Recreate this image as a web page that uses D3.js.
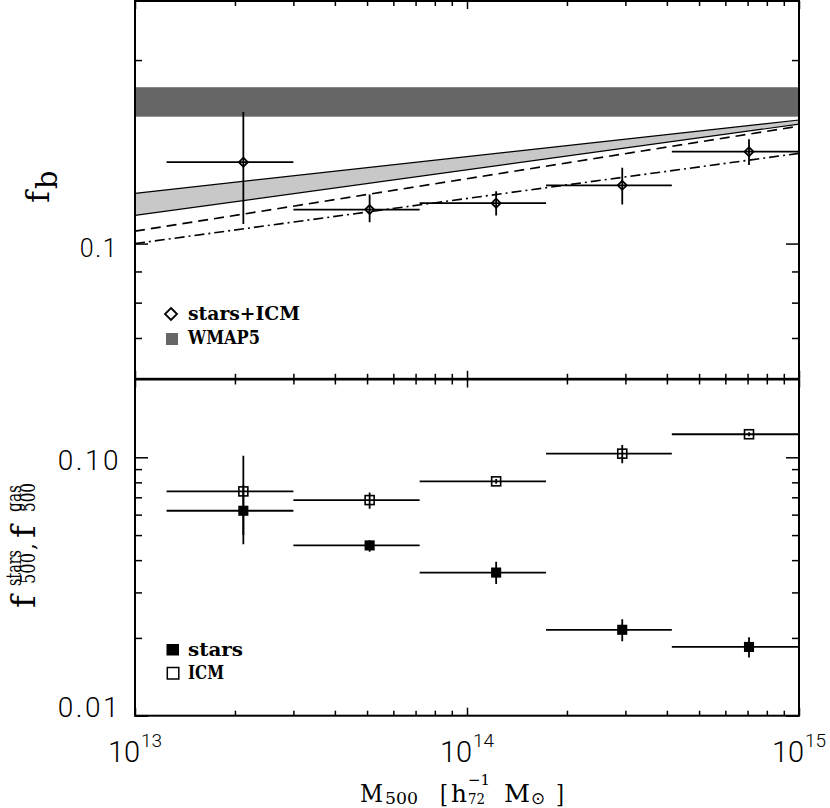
<!DOCTYPE html>
<html><head><meta charset="utf-8">
<script src="https://cdn.jsdelivr.net/npm/d3@7"></script>
<style>body{margin:0;background:#fff}svg{display:block}</style>
</head><body>
<svg id="chart" width="830" height="808"></svg>
<script>
// ---------------- data ----------------
const massEdges   = [1.245e13, 3.0e13, 7.2e13, 1.73e14, 4.14e14, 1.0e15];
const massCenters = [2.12e13, 5.09e13, 1.224e14, 2.935e14, 7.07e14];

const fbValues = [0.136, 0.1137, 0.1165, 0.1246, 0.1415];
const fbLow    = [0.1077, 0.1084, 0.1112, 0.1159, 0.1345];
const fbHigh   = [0.1644, 0.1204, 0.1219, 0.1332, 0.1483];

const starValues = [0.0621, 0.0456, 0.0358, 0.0215, 0.01845];
const starLow    = [0.0461, 0.0431, 0.0323, 0.0194, 0.0168];
const starHigh   = [0.078, 0.0478, 0.0394, 0.0236, 0.0201];

const icmValues = [0.0738, 0.0683, 0.0807, 0.1033, 0.1228];
const icmLow    = [0.050, 0.0632, 0.079, 0.0948, 0.1205];
const icmHigh   = [0.1014, 0.0731, 0.0825, 0.1116, 0.125];

const wmap5Band = [0.1615, 0.1805];

const lineMass      = [1e13, 1e15];
const bandUpperVals = [0.1209, 0.1595];
const bandLowerVals = [0.1112, 0.157];
const dashedVals    = [0.1048, 0.1558];
const dashDotVals   = [0.100, 0.1406];

const xMajorTicks = [1e13, 1e14, 1e15];
const xMinorTicks = [2e13,3e13,4e13,5e13,6e13,7e13,8e13,9e13,2e14,3e14,4e14,5e14,6e14,7e14,8e14,9e14];
const xTickExp = ["13", "14", "15"];
const topMajorTicks = [0.1];
const topMinorTicks = [0.07, 0.08, 0.09, 0.2];
const topTickLabels = ["0.1"];
const botMajorTicks = [0.01, 0.1];
const botMinorTicks = [0.02,0.03,0.04,0.05,0.06,0.07,0.08,0.09];
const botTickLabels = ["0.01", "0.10"];

// ---------------- scales ----------------
const svg = d3.select("#chart");
const X0 = 135, X1 = 799;
const x = d3.scaleLog().domain([1e13, 1e15]).range([X0, X1]);
const yTop = d3.scaleLog().domain([0.06, 0.25]).range([378.8, 1]);
const yBot = d3.scaleLog().domain([0.01, 0.2]).range([715.7, 379.5]);

const serif = "'DejaVu Serif', 'Liberation Serif', serif";
const sans = "Roboto, 'Liberation Sans', sans-serif";

const defs = svg.append("defs");
function clip(id, y0, y1) {
  defs.append("clipPath").attr("id", id).append("rect")
    .attr("x", X0).attr("y", y0).attr("width", X1 - X0).attr("height", y1 - y0);
}
clip("cTop", yTop.range()[1], yTop.range()[0]);
clip("cBot", yBot.range()[1], yBot.range()[0]);

// ---------------- top panel ----------------
const gTop = svg.append("g").attr("clip-path", "url(#cTop)");
gTop.append("rect")
  .attr("x", x(1e13)).attr("width", x(1e15) - x(1e13))
  .attr("y", yTop(wmap5Band[1])).attr("height", yTop(wmap5Band[0]) - yTop(wmap5Band[1]))
  .attr("fill", "#666666");

const bandData = lineMass.map((m, i) => ({m, lo: bandLowerVals[i], hi: bandUpperVals[i]}));
gTop.append("path").datum(bandData)
  .attr("d", d3.area().x(d => x(d.m)).y0(d => yTop(d.lo)).y1(d => yTop(d.hi)))
  .attr("fill", "#c8c8c8");
const lineGen = vals => d3.line().x((d, i) => x(lineMass[i])).y(d => yTop(d))(vals);
gTop.append("path").attr("d", lineGen(bandUpperVals)).attr("stroke", "#000").attr("stroke-width", 1.2).attr("fill", "none");
gTop.append("path").attr("d", lineGen(bandLowerVals)).attr("stroke", "#000").attr("stroke-width", 1.2).attr("fill", "none");
gTop.append("path").attr("d", lineGen(dashedVals)).attr("stroke", "#000").attr("stroke-width", 1.6)
  .attr("fill", "none").attr("stroke-dasharray", "10,6");
gTop.append("path").attr("d", lineGen(dashDotVals)).attr("stroke", "#000").attr("stroke-width", 1.6)
  .attr("fill", "none").attr("stroke-dasharray", "10,4,2,4");

function errorBars(g, yS, vals, lo, hi) {
  vals.forEach((v, i) => {
    g.append("line").attr("x1", x(massEdges[i])).attr("x2", x(massEdges[i + 1]))
      .attr("y1", yS(v)).attr("y2", yS(v)).attr("stroke", "#000").attr("stroke-width", 1.8);
    g.append("line").attr("x1", x(massCenters[i])).attr("x2", x(massCenters[i]))
      .attr("y1", yS(lo[i])).attr("y2", yS(hi[i])).attr("stroke", "#000").attr("stroke-width", 1.8);
  });
}
errorBars(gTop, yTop, fbValues, fbLow, fbHigh);
function diamond(g, cx, cy, r) {
  g.append("path").attr("d", `M${cx},${cy - r}L${cx + r},${cy}L${cx},${cy + r}L${cx - r},${cy}Z`)
    .attr("fill", "none").attr("stroke", "#000").attr("stroke-width", 1.8);
}
fbValues.forEach((v, i) => diamond(gTop, x(massCenters[i]), yTop(v), 4.5));

// ---------------- bottom panel ----------------
const gBot = svg.append("g").attr("clip-path", "url(#cBot)");
errorBars(gBot, yBot, icmValues, icmLow, icmHigh);
errorBars(gBot, yBot, starValues, starLow, starHigh);
function square(g, cx, cy, s, filled) {
  g.append("rect").attr("x", cx - s / 2).attr("y", cy - s / 2).attr("width", s).attr("height", s)
    .attr("fill", filled ? "#000" : "none").attr("stroke", "#000").attr("stroke-width", 1.6);
}
icmValues.forEach((v, i) => square(gBot, x(massCenters[i]), yBot(v), 9, false));
starValues.forEach((v, i) => square(gBot, x(massCenters[i]), yBot(v), 8.5, true));

// ---------------- axes / ticks ----------------
function styleAxis(sel) {
  sel.select(".domain").remove();
  sel.selectAll(".tick line").attr("stroke", "#000").attr("stroke-width", 1.5);
  sel.selectAll(".tick text").remove();
}
function panelAxes(yS, yMaj, yMin) {
  const yb = yS.range()[0], yt = yS.range()[1];
  [[d3.axisBottom, yb], [d3.axisTop, yt]].forEach(([ax, yy]) => {
    svg.append("g").attr("transform", `translate(0,${yy})`)
      .call(ax(x).tickValues(xMinorTicks).tickSize(-5).tickFormat("")).call(styleAxis);
    svg.append("g").attr("transform", `translate(0,${yy})`)
      .call(ax(x).tickValues(xMajorTicks).tickSize(-8).tickFormat("")).call(styleAxis);
  });
  [[d3.axisLeft, X0], [d3.axisRight, X1]].forEach(([ax, xx]) => {
    svg.append("g").attr("transform", `translate(${xx},0)`)
      .call(ax(yS).tickValues(yMin).tickSize(-7).tickFormat("")).call(styleAxis);
    svg.append("g").attr("transform", `translate(${xx},0)`)
      .call(ax(yS).tickValues(yMaj).tickSize(-13).tickFormat("")).call(styleAxis);
  });
  svg.append("rect").attr("x", X0).attr("y", yt).attr("width", X1 - X0).attr("height", yb - yt)
    .attr("fill", "none").attr("stroke", "#000").attr("stroke-width", 2);
}
panelAxes(yTop, topMajorTicks, topMinorTicks);
panelAxes(yBot, botMajorTicks, botMinorTicks);

// y tick labels
topMajorTicks.forEach((t, i) => {
  svg.append("text").attr("x", 118).attr("y", yTop(t) + 13).attr("text-anchor", "end")
    .attr("font-family", sans).attr("font-weight", 300).attr("font-size", 25)
    .attr("letter-spacing", 1.5).text(topTickLabels[i]);
});
botMajorTicks.forEach((t, i) => {
  const off = t === 0.01 ? 1 : 12.5;
  svg.append("text").attr("x", 121).attr("y", yBot(t) + off).attr("text-anchor", "end")
    .attr("font-family", sans).attr("font-weight", 300).attr("font-size", 28)
    .attr("letter-spacing", 2.5).text(botTickLabels[i]);
});
// x tick labels
xMajorTicks.forEach((t, i) => {
  const tx = svg.append("text").attr("x", x(t)).attr("y", 762).attr("text-anchor", "middle")
    .attr("font-family", sans).attr("font-weight", 300).attr("font-size", 29);
  tx.append("tspan").text("10");
  tx.append("tspan").attr("dy", -15).attr("font-size", 19).attr("dx", 1).text(xTickExp[i]);
});

// ---------------- axis titles ----------------
function piece(g, txt, px, py, size, len, extra) {
  const t = g.append("text").attr("x", px).attr("y", py).attr("font-family", serif)
    .attr("font-size", size).text(txt);
  if (len) t.attr("textLength", len).attr("lengthAdjust", "spacingAndGlyphs");
  if (extra) extra(t);
  return t;
}
// x title: M500 [h72^-1 Msun]
piece(svg, "M", 360, 802, 24, 23);
piece(svg, "500", 385, 804, 17, 33);
piece(svg, "[", 440, 802, 24, 8);
piece(svg, "h", 451, 802, 25, 16);
piece(svg, "\u22121", 468, 785, 15, 22);
piece(svg, "72", 468, 804, 14, 17);
piece(svg, "M", 504, 802, 24, 26);
piece(svg, "\u2299", 531, 804, 17, 14, t => t.attr("font-family", "'DejaVu Sans', sans-serif"));
piece(svg, "]", 556, 802, 24, 8);

// top y title: f_b
const gyt = svg.append("g").attr("transform", "translate(49,203) rotate(-90)");
piece(gyt, "f", 0, 0, 32);
piece(gyt, "b", 14, 8, 29);

// bottom y title: f500^stars , f500^gas
const gyb = svg.append("g").attr("transform", "translate(35,608) rotate(-90)");
piece(gyb, "f", 0, 0, 34);
piece(gyb, "stars", 22, -14, 20, 36);
piece(gyb, "500", 24, 0, 21, 31);
piece(gyb, ",", 58, 0, 22);
piece(gyb, "f", 70, 0, 34);
piece(gyb, "gas", 96, -14, 20, 27);
piece(gyb, "500", 96, 0, 21, 29);

// ---------------- legends ----------------
function legText(txt, px, py, len) {
  piece(svg, txt, px, py, 18, len, t => t.attr("font-weight", "bold"));
}
diamond(svg, 171, 314, 6);
legText("stars+ICM", 188, 320, 112);
svg.append("rect").attr("x", 166).attr("y", 333).attr("width", 12).attr("height", 12).attr("fill", "#666666");
legText("WMAP5", 188, 344, 72);
svg.append("rect").attr("x", 166.5).attr("y", 644).attr("width", 12.5).attr("height", 11.5).attr("fill", "#000");
legText("stars", 188, 656, 55);
svg.append("rect").attr("x", 167.3).attr("y", 667.5).attr("width", 11.5).attr("height", 11.5)
  .attr("fill", "none").attr("stroke", "#000").attr("stroke-width", 1.5);
legText("ICM", 188, 678.5, 36);
</script>
</body></html>
